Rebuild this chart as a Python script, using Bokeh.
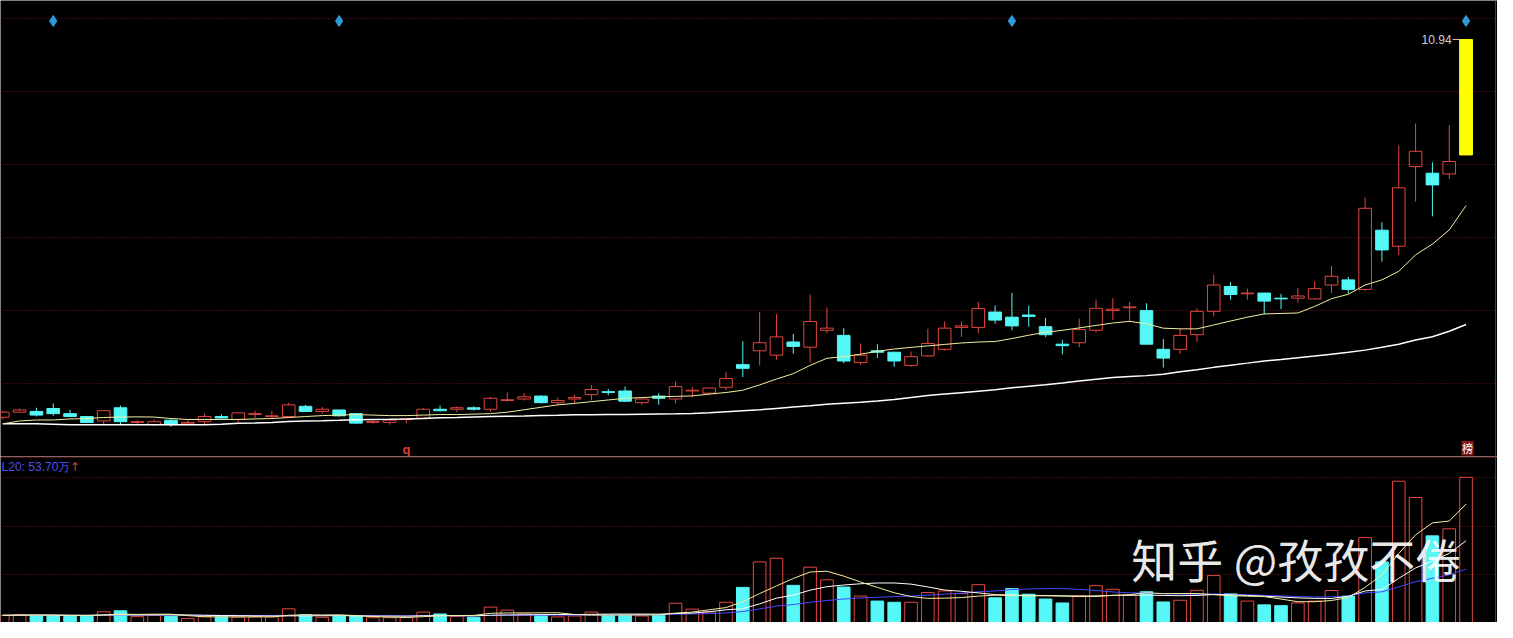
from bokeh.plotting import figure
from bokeh.layouts import column
from bokeh.models import Range1d, FixedTicker, Span, ColumnDataSource
from bokeh.core.properties import value
from bokeh.embed import file_html
from bokeh.resources import INLINE

# ---------------- data ----------------
opens = [5.77, 5.84, 5.85, 5.89, 5.82, 5.78, 5.72, 5.90, 5.70, 5.67,
         5.73, 5.68, 5.71, 5.78, 5.74, 5.81, 5.78, 5.78, 5.92, 5.85,
         5.87, 5.82, 5.70, 5.70, 5.74, 5.76, 5.88, 5.88, 5.90, 5.88,
         6.00, 6.02, 6.06, 5.97, 6.02, 6.08, 6.12, 6.13, 5.97, 6.06,
         6.02, 6.13, 6.10, 6.18, 6.49, 6.68, 6.62, 6.80, 6.73, 6.96,
         6.89, 6.52, 6.68, 6.66, 6.48, 6.61, 6.70, 7.00, 7.00, 7.21,
         7.14, 7.17, 7.01, 6.77, 6.79, 6.96, 7.23, 7.27, 7.23, 6.70,
         6.70, 6.90, 7.22, 7.56, 7.46, 7.47, 7.40, 7.40, 7.39, 7.58,
         7.65, 7.52, 8.33, 8.11, 9.20, 9.11, 9.10]
highs = [5.86, 5.89, 5.90, 5.96, 5.87, 5.79, 5.87, 5.93, 5.73, 5.74,
         5.74, 5.74, 5.82, 5.81, 5.84, 5.86, 5.86, 5.97, 5.94, 5.91,
         5.87, 5.83, 5.73, 5.74, 5.76, 5.90, 5.93, 5.92, 5.92, 6.05,
         6.11, 6.10, 6.07, 6.04, 6.08, 6.21, 6.16, 6.19, 6.03, 6.10,
         6.26, 6.18, 6.18, 6.39, 6.81, 7.21, 7.18, 6.91, 7.45, 7.27,
         6.99, 6.78, 6.77, 6.67, 6.67, 6.98, 7.08, 7.08, 7.35, 7.30,
         7.47, 7.30, 7.13, 6.83, 7.12, 7.38, 7.40, 7.35, 7.33, 6.84,
         6.99, 7.26, 7.72, 7.62, 7.53, 7.47, 7.46, 7.54, 7.63, 7.84,
         7.69, 8.78, 8.44, 9.49, 9.79, 9.26, 9.77]
lows = [5.74, 5.83, 5.78, 5.79, 5.78, 5.69, 5.67, 5.67, 5.68, 5.65,
        5.64, 5.67, 5.67, 5.75, 5.70, 5.76, 5.76, 5.77, 5.84, 5.82,
        5.78, 5.68, 5.68, 5.67, 5.69, 5.75, 5.85, 5.84, 5.86, 5.84,
        5.98, 6.00, 5.96, 5.94, 5.96, 6.00, 6.07, 5.98, 5.94, 5.94,
        5.96, 6.04, 6.07, 6.14, 6.32, 6.48, 6.56, 6.64, 6.52, 6.92,
        6.51, 6.49, 6.58, 6.46, 6.46, 6.60, 6.68, 6.87, 6.92, 7.05,
        6.96, 7.01, 6.87, 6.63, 6.73, 6.93, 7.10, 7.07, 6.76, 6.45,
        6.64, 6.80, 7.15, 7.38, 7.38, 7.18, 7.25, 7.34, 7.38, 7.47,
        7.46, 7.50, 7.90, 7.99, 8.72, 8.52, 9.03]
closes = [5.84, 5.87, 5.80, 5.82, 5.78, 5.70, 5.86, 5.71, 5.71, 5.71,
          5.67, 5.70, 5.78, 5.76, 5.83, 5.82, 5.79, 5.94, 5.85, 5.88,
          5.79, 5.69, 5.71, 5.73, 5.75, 5.88, 5.86, 5.90, 5.88, 6.03,
          6.01, 6.05, 5.97, 6.00, 6.04, 6.15, 6.11, 5.99, 6.02, 6.03,
          6.19, 6.14, 6.17, 6.30, 6.44, 6.79, 6.87, 6.74, 7.08, 6.99,
          6.54, 6.62, 6.66, 6.54, 6.60, 6.78, 6.99, 7.02, 7.26, 7.10,
          7.02, 7.15, 6.90, 6.75, 6.97, 7.26, 7.25, 7.28, 6.77, 6.58,
          6.89, 7.22, 7.58, 7.45, 7.47, 7.36, 7.39, 7.43, 7.53, 7.70,
          7.52, 8.63, 8.06, 8.91, 9.41, 8.95, 9.27]

ma_short = [5.680, 5.720, 5.733, 5.733, 5.747, 5.753, 5.767, 5.773, 5.776, 5.773,
            5.753, 5.740, 5.740, 5.740, 5.740, 5.747, 5.753, 5.767, 5.780, 5.793,
            5.800, 5.807, 5.800, 5.793, 5.793, 5.800, 5.807, 5.807, 5.813, 5.820,
            5.840, 5.873, 5.907, 5.940, 5.960, 5.984, 6.007, 6.029, 6.040, 6.051,
            6.056, 6.063, 6.087, 6.109, 6.140, 6.213, 6.293, 6.367, 6.480, 6.577,
            6.600, 6.633, 6.673, 6.704, 6.727, 6.747, 6.767, 6.787, 6.800, 6.807,
            6.847, 6.893, 6.933, 6.960, 6.993, 7.027, 7.060, 7.083, 7.049, 6.989,
            6.980, 6.980, 7.033, 7.087, 7.140, 7.184, 7.191, 7.197, 7.287, 7.393,
            7.453, 7.580, 7.651, 7.767, 7.993, 8.140, 8.333, 8.667]
ma_long = [5.683, 5.683, 5.680, 5.676, 5.669, 5.669, 5.669, 5.669, 5.669, 5.669,
           5.669, 5.669, 5.669, 5.673, 5.687, 5.693, 5.700, 5.713, 5.720, 5.723,
           5.729, 5.737, 5.740, 5.743, 5.747, 5.753, 5.763, 5.767, 5.773, 5.780,
           5.783, 5.787, 5.793, 5.797, 5.803, 5.804, 5.807, 5.809, 5.813, 5.816,
           5.819, 5.823, 5.833, 5.847, 5.860, 5.873, 5.891, 5.909, 5.927, 5.947,
           5.963, 5.977, 5.993, 6.013, 6.040, 6.067, 6.087, 6.107, 6.127, 6.147,
           6.173, 6.193, 6.216, 6.240, 6.267, 6.291, 6.313, 6.327, 6.340, 6.360,
           6.393, 6.420, 6.453, 6.483, 6.511, 6.540, 6.560, 6.583, 6.607, 6.633,
           6.660, 6.689, 6.727, 6.769, 6.827, 6.873, 6.947, 7.040]

# volume (万股)
volume = [12.4, 13.1, 12.4, 12.4, 11.6, 11.6, 15.7, 16.5, 11.3, 12.4,
          11.6, 9.6, 11.3, 11.1, 11.1, 11.1, 11.1, 18.3, 13.1, 10.7,
          11.6, 11.6, 10.4, 10.4, 10.4, 15.4, 13.7, 11.6, 10.7, 19.8,
          17.1, 13.7, 12.4, 11.1, 11.9, 15.4, 12.4, 12.4, 11.9, 12.4,
          23.2, 18.0, 15.4, 24.1, 37.4, 60.1, 63.3, 39.2, 55.4, 44.1,
          37.7, 29.6, 25.2, 24.1, 24.1, 32.8, 34.2, 31.9, 39.8, 28.1,
          36.3, 31.3, 27.0, 23.5, 29.9, 38.9, 35.7, 30.5, 33.5, 24.4,
          25.9, 34.8, 47.9, 31.6, 25.2, 21.8, 21.1, 23.5, 25.2, 34.6,
          29.6, 81.8, 60.1, 132.0, 117.5, 83.3, 89.6, 135.5]
last_day_up = True

vol_ma5 = [12.5, 12.6, 12.7, 12.6, 12.3, 12.2, 12.9, 13.5, 13.3, 13.5,
           13.5, 12.2, 11.2, 11.2, 11.0, 11.2, 11.1, 12.5, 12.9, 12.8,
           12.9, 12.2, 11.4, 10.9, 10.6, 11.3, 12.0, 12.3, 12.4, 14.3,
           14.6, 14.6, 14.7, 14.8, 13.2, 12.7, 12.7, 12.7, 12.8, 12.9,
           14.5, 15.4, 17.4, 19.4, 24.6, 31.9, 38.7, 45.3, 51.1, 51.8,
           47.4, 42.2, 37.4, 32.6, 29.2, 27.6, 27.8, 28.3, 29.6, 30.5,
           30.0, 29.9, 29.9, 29.7, 29.2, 29.3, 30.2, 30.9, 32.6, 31.8,
           31.9, 31.9, 30.9, 30.0, 29.6, 29.2, 27.0, 24.6, 24.6, 25.7,
           28.3, 37.4, 48.7, 67.6, 84.2, 94.9, 96.5, 111.7]
vol_ma10 = [12.6, 12.7, 12.8, 12.7, 12.6, 12.5, 12.7, 12.9, 12.8, 12.9,
            12.9, 12.8, 12.5, 12.3, 12.2, 12.0, 11.9, 12.0, 12.0, 12.1,
            12.2, 12.0, 11.8, 11.8, 11.7, 12.1, 12.2, 12.2, 12.0, 12.6,
            12.8, 12.9, 13.1, 13.2, 13.2, 13.4, 13.6, 13.6, 13.6, 13.5,
            14.1, 14.5, 15.7, 17.4, 18.4, 22.7, 27.8, 30.5, 34.9, 38.0,
            39.5, 40.6, 41.3, 41.3, 40.3, 37.8, 35.0, 33.9, 32.5, 30.9,
            30.6, 30.3, 30.1, 29.8, 29.6, 29.8, 30.3, 30.4, 30.5, 30.2,
            30.0, 30.2, 31.0, 30.8, 30.2, 29.5, 28.8, 28.0, 27.6, 27.5,
            29.5, 34.2, 35.5, 45.5, 54.7, 60.9, 67.7, 78.9]
vol_ma20 = [12.4, 12.5, 12.5, 12.6, 12.6, 12.5, 12.6, 12.7, 12.7, 12.7,
            12.7, 12.6, 12.5, 12.5, 12.4, 12.4, 12.4, 12.5, 12.4, 12.4,
            12.5, 12.4, 12.3, 12.2, 12.1, 12.2, 12.2, 12.1, 12.0, 12.3,
            12.5, 12.6, 12.6, 12.6, 12.6, 12.7, 12.8, 12.9, 12.9, 13.0,
            13.4, 13.8, 14.0, 14.6, 15.8, 18.2, 20.7, 22.1, 24.1, 25.7,
            27.0, 27.9, 28.6, 29.2, 29.7, 30.5, 31.4, 32.2, 33.5, 34.2,
            35.4, 36.0, 36.3, 36.3, 35.6, 34.6, 33.3, 32.6, 32.3, 31.8,
            31.5, 31.2, 31.6, 31.2, 30.8, 30.3, 29.8, 29.2, 28.8, 29.0,
            29.6, 32.5, 33.4, 37.8, 42.5, 45.5, 48.6, 53.7]

target_idx = 87
target_high = 10.94
target_low = 9.36
signal_idx = [3, 20, 60, 87]
q_idx = 24
vol_label = "L20: 53.70万"
watermark = "知乎 @孜孜不倦"

# ---------------- styling ----------------
RED = "#e4463f"
CYAN = "#55f7f7"
GRID = "#701616"
BORDER = "#8e2020"
BW = 0.75

W = 1497
H_TOP = 456
H_BOT = 166

xr = Range1d(-0.135, 88.87)

def base(h, yr):
    p = figure(width=W, height=h, x_range=xr, y_range=yr,
               output_backend="svg", toolbar_location=None,
               min_border=0, min_border_left=0, min_border_right=0,
               min_border_top=0, min_border_bottom=0,
               background_fill_color="black", border_fill_color="black",
               outline_line_color=None)
    p.xaxis.visible = False
    p.yaxis.visible = False
    p.xgrid.visible = False
    p.ygrid.grid_line_color = GRID
    p.ygrid.grid_line_dash = "1 2"
    p.ygrid.grid_line_width = 1
    return p

# ---------------- price panel ----------------
p1 = base(H_TOP, Range1d(5.2333, 11.4733))
p1.ygrid.ticker = FixedTicker(ticks=[11.229, 10.229, 9.229, 8.229, 7.229, 6.229])

n = len(opens)
ux, utop, ubot, uh, ul = [], [], [], [], []
dx, dtop, dbot, dh, dl = [], [], [], [], []
for i in range(n):
    o, h, l, c = opens[i], highs[i], lows[i], closes[i]
    if c >= o:
        ux.append(i); utop.append(c); ubot.append(o); uh.append(h); ul.append(l)
    else:
        dx.append(i); dtop.append(o); dbot.append(c); dh.append(h); dl.append(l)

up_src = ColumnDataSource(dict(x=ux, top=utop, bottom=ubot, high=uh, low=ul))
dn_src = ColumnDataSource(dict(x=dx, top=dtop, bottom=dbot, high=dh, low=dl))

p1.segment(x0="x", y0="top", x1="x", y1="high", source=up_src, line_color=RED, line_width=1)
p1.segment(x0="x", y0="bottom", x1="x", y1="low", source=up_src, line_color=RED, line_width=1)
p1.vbar(x="x", width=BW, top="top", bottom="bottom", source=up_src,
        fill_color=None, line_color=RED, line_width=1)
p1.segment(x0="x", y0="high", x1="x", y1="low", source=dn_src, line_color=CYAN, line_width=1)
p1.vbar(x="x", width=BW, top="top", bottom="bottom", source=dn_src,
        fill_color=CYAN, line_color=CYAN, line_width=1)

ma_x = list(range(len(ma_short)))
p1.line(ma_x, ma_long, line_color="#ffffff", line_width=1.5)
p1.line(ma_x, ma_short, line_color="#f2eea0", line_width=1)

# target bar
p1.vbar(x=[target_idx], width=0.76, top=[target_high], bottom=[target_low],
        fill_color="#ffff00", line_color="#ffff00")
p1.text(x=[target_idx - 0.86], y=[target_high], text=[f"{target_high:.2f}"],
        text_align="right", text_baseline="middle", text_color="#d0d0d0",
        text_font=value("Liberation Sans"), text_font_size="12px")
p1.segment(x0=[target_idx - 0.80], y0=[target_high], x1=[target_idx - 0.38], y1=[target_high],
           line_color="#c8c8c8", line_width=1)

# signal diamonds
p1.scatter(x=signal_idx, y=[11.193] * len(signal_idx), marker="diamond", size=11,
           fill_color="#2d9ad6", line_color="#2d9ad6")

# q mark
p1.text(x=[q_idx], y=[5.326], text=["q"], text_align="center", text_baseline="middle",
        text_color="#e03a32", text_font=value("Liberation Sans"), text_font_size="13px",
        text_font_style="bold")

# 榜 badge
p1.quad(left=[target_idx - 0.27], right=[target_idx + 0.45], bottom=[5.2466], top=[5.4466],
        fill_color="#8a1717", line_color=None)
p1.text(x=[target_idx + 0.09], y=[5.3466], text=["榜"], text_align="center",
        text_baseline="middle", text_color="#ffffff",
        text_font=value("Noto Sans CJK SC"), text_font_size="11px")

p1.add_layout(Span(location=88.75, dimension="height", line_color=BORDER, line_width=1))

# ---------------- volume panel ----------------
p2 = base(H_BOT, Range1d(6.09, 154.04))
p2.ygrid.ticker = FixedTicker(ticks=[135.5, 92.0, 48.5])

vol_up = [closes[i] >= opens[i] for i in range(n)] + [last_day_up]
vux = [i for i in range(len(volume)) if vol_up[i]]
vdx = [i for i in range(len(volume)) if not vol_up[i]]
p2.vbar(x=vdx, width=BW, top=[volume[i] for i in vdx], bottom=0,
        fill_color=CYAN, line_color=CYAN, line_width=1)
p2.vbar(x=vux, width=BW, top=[volume[i] for i in vux], bottom=0,
        fill_color=None, line_color=RED, line_width=1)

vx = list(range(len(volume)))
p2.line(vx, vol_ma20, line_color="#4848ff", line_width=1)
p2.line(vx, vol_ma10, line_color="#ffffff", line_width=1)
p2.line(vx, vol_ma5, line_color="#f2eea0", line_width=1)

p2.add_layout(Span(location=153.6, dimension="width", line_color=BORDER, line_width=1.2))
p2.add_layout(Span(location=88.75, dimension="height", line_color=BORDER, line_width=1))

p2.text(x=[-0.07], y=[144.5], text=[vol_label], text_align="left", text_baseline="middle",
        text_color="#5050e6", text_font=value("Liberation Sans"), text_font_size="12px")
p2.text(x=[3.98], y=[144.5], text=["↑"], text_align="left", text_baseline="middle",
        text_color="#e03a32", text_font=value("DejaVu Sans"), text_font_size="12px")

p2.text(x=[67.1], y=[63.5], text=[watermark], text_align="left", text_baseline="middle",
        text_color="#ffffff", text_alpha=0.93,
        text_font=value("Noto Sans CJK SC"), text_font_size="46px")

layout = column(p1, p2, spacing=0)
open("out.html", "w").write(file_html(layout, INLINE))
